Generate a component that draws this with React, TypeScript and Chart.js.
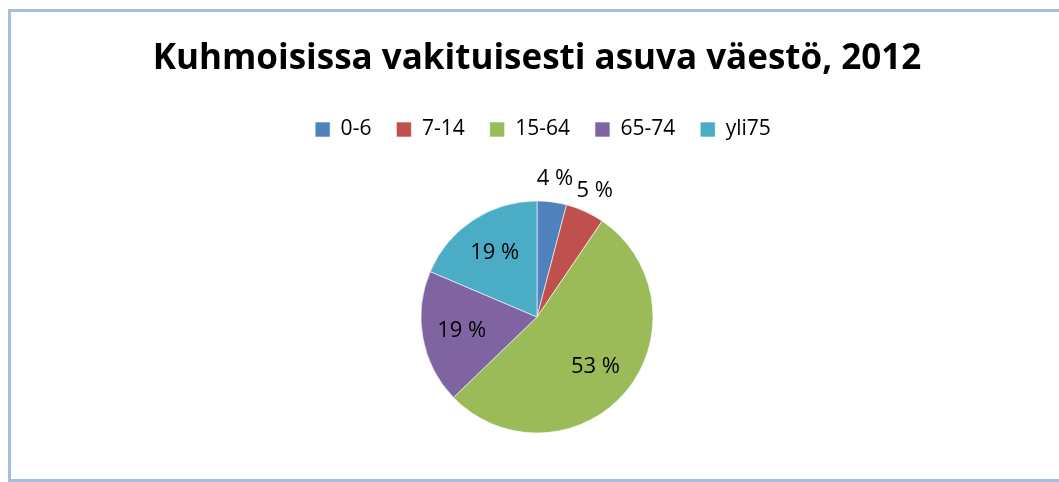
import React, { useEffect, useRef } from "react";
import { Chart, registerables } from "chart.js";

Chart.register(...registerables);

const titleText = "Kuhmoisissa vakituisesti asuva väestö, 2012";
const categories = ["0-6", "7-14", "15-64", "65-74", "yli75"];
const values = [4.1, 5.4, 53.3, 18.6, 18.6];
const colors = ["#4f81bd", "#c0504d", "#9bbb59", "#8064a2", "#4bacc6"];

const FONT = "'Open Sans'";

const sliceLabels = {
  id: "sliceLabels",
  afterDatasetsDraw(chart: any) {
    const ctx = chart.ctx;
    const meta = chart.getDatasetMeta(0);
    const data = chart.data.datasets[0].data as number[];
    const total = data.reduce((a, b) => a + b, 0);
    ctx.save();
    ctx.font = `22px ${FONT}`;
    ctx.fillStyle = "#000";
    ctx.textAlign = "center";
    ctx.textBaseline = "middle";
    meta.data.forEach((arc: any, i: number) => {
      const { x, y, startAngle, endAngle, outerRadius } = arc.getProps(
        ["x", "y", "startAngle", "endAngle", "outerRadius"],
        true
      );
      const pct = (data[i] / total) * 100;
      const mid = (startAngle + endAngle) / 2;
      const r = pct < 8 ? outerRadius * 1.2 : outerRadius * 0.66;
      ctx.fillText(Math.round(pct) + " %", x + Math.cos(mid) * r, y + Math.sin(mid) * r);
    });
    ctx.restore();
  },
};

const legendGap = {
  id: "legendGap",
  beforeInit(chart: any) {
    const legend = chart.legend;
    if (!legend) return;
    const origFit = legend.fit;
    legend.fit = function () {
      origFit.call(this);
      this.height += 5;
    };
  },
  afterLayout(chart: any) {
    const legend = chart.legend;
    if (!legend) return;
    legend.left += 6;
    legend.right += 6;
  },
};

export default function App() {
  const ref = useRef<HTMLCanvasElement>(null);
  useEffect(() => {
    document.documentElement.style.overflow = "hidden";
    document.body.style.overflow = "hidden";
    const chart = new Chart(ref.current!, {
      type: "pie",
      data: {
        labels: categories,
        datasets: [
          {
            data: values,
            backgroundColor: colors,
            borderColor: "rgba(255,255,255,0.6)",
            borderWidth: 1,
            radius: 116,
          },
        ],
      },
      options: {
        responsive: false,
        animation: false,
        layout: { padding: { left: 4, bottom: 0, top: 0 } },
        plugins: {
          tooltip: { enabled: false },
          title: {
            display: true,
            text: titleText,
            color: "#000",
            font: { family: FONT, size: 35, weight: "bold" },
            padding: { top: 26, bottom: 14 },
          },
          legend: {
            display: true,
            position: "top",
            labels: {
              color: "#000",
              font: { family: FONT, size: 21 },
              boxWidth: 15,
              boxHeight: 15,
              padding: 25,
            },
          },
        },
      },
      plugins: [legendGap, sliceLabels],
    });
    return () => chart.destroy();
  }, []);
  return (
    <div
      style={{
        position: "absolute",
        left: 8,
        top: 9,
        width: 1051,
        height: 467,
        borderLeft: "3px solid #a7bfde",
        borderTop: "3px solid #a7bfde",
        borderBottom: "3px solid #a7bfde",
        background: "#fff",
      }}
    >
      <canvas ref={ref} width={1048} height={467} style={{ display: "block" }} />
    </div>
  );
}
